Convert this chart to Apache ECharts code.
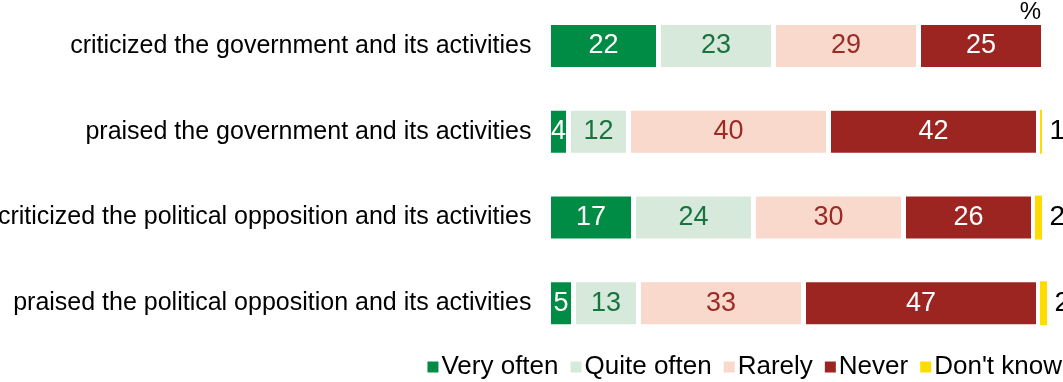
<!DOCTYPE html>
<html>
<head>
<meta charset="utf-8">
<script src="https://cdn.jsdelivr.net/npm/echarts@6/dist/echarts.min.js"></script>
<style>
  html, body { margin: 0; padding: 0; background: #fff; }
  #main { width: 1063px; height: 382px; }
</style>
</head>
<body>
<div id="main"></div>
<script>
// categories (top to bottom)
var categories = [
    'criticized the government and its activities',
    'praised the government and its activities',
    'criticized the political opposition and its activities',
    'praised the political opposition and its activities'
];
var veryOften = [22, 4, 17, 5];
var quiteOften = [23, 12, 24, 13];
var rarely = [29, 40, 30, 33];
var never = [25, 42, 26, 47];
var dontKnow = [0, 1, 2, 2];

var seriesNames = ['Very often', 'Quite often', 'Rarely', 'Never', "Don't know"];
var seriesColors = ['#008c45', '#d6e9da', '#f9d9cc', '#9c2421', '#ffdc00'];
var labelColors = ['#ffffff', '#197340', '#9c2a26', '#ffffff', '#000000'];
var seriesData = [veryOften, quiteOften, rarely, never, dontKnow];

var myChart = echarts.init(document.getElementById('main'));

var series = [];
for (var i = 0; i < seriesData.length; i++) {
    var isDk = (i === 4);
    series.push({
        name: seriesNames[i],
        type: 'bar',
        stack: 'total',
        barWidth: 47,
        data: seriesData[i],
        itemStyle: {
            color: seriesColors[i],
            borderColor: '#ffffff',
            // thinner border on the tiny "don't know" bars so they stay visible
            borderWidth: isDk ? 1.5 : 2.5
        },
        label: {
            show: true,
            position: isDk ? 'right' : 'inside',
            distance: 6,
            color: labelColors[i],
            fontFamily: 'Liberation Sans, Arial, sans-serif',
            fontSize: isDk ? 28 : 27,
            formatter: function (p) { return p.value ? p.value : ''; }
        }
    });
}

var option = {
    animation: false,
    grid: {
        left: 548.5,
        width: 500,
        top: 3,
        height: 343,
        outerBoundsMode: 'none'
    },
    xAxis: {
        type: 'value',
        min: 0,
        max: 100,
        show: false
    },
    yAxis: {
        type: 'category',
        inverse: true,
        data: categories,
        axisLine: { show: false },
        axisTick: { show: false },
        axisLabel: {
            margin: 17,
            color: '#000',
            fontFamily: 'Liberation Sans, Arial, sans-serif',
            fontSize: 25
        }
    },
    legend: {
        right: 1,
        top: 354,
        padding: 0,
        itemWidth: 11,
        itemHeight: 11,
        itemGap: 12,
        icon: 'rect',
        itemStyle: { borderWidth: 0 },
        textStyle: {
            color: '#000',
            fontFamily: 'Liberation Sans, Arial, sans-serif',
            fontSize: 26,
            padding: [0, 0, 0, -2]
        },
        data: seriesNames
    },
    graphic: [{
        type: 'text',
        right: 22,
        top: 0,
        style: {
            text: '%',
            fill: '#000',
            font: '24px Liberation Sans, Arial, sans-serif'
        }
    }],
    series: series
};

myChart.setOption(option);
</script>
</body>
</html>
